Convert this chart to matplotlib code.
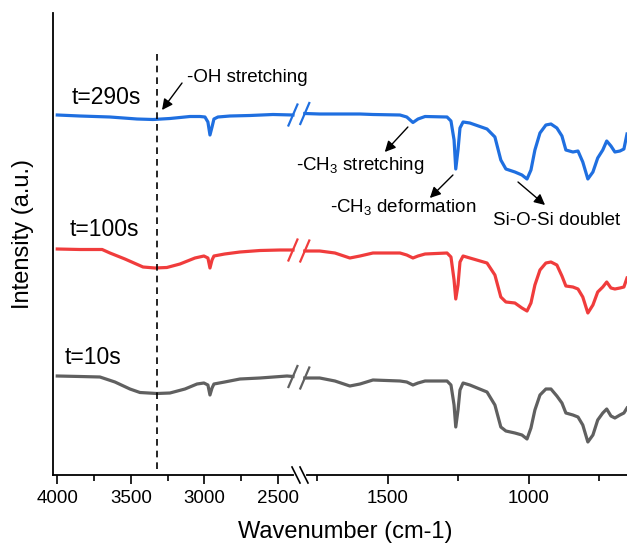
import matplotlib
matplotlib.use("Agg")
import matplotlib.pyplot as plt
from matplotlib.lines import Line2D
from matplotlib.transforms import IdentityTransform

plt.rcParams['font.family'] = ['Liberation Sans', 'DejaVu Sans']
plt.rcParams['mathtext.fontset'] = 'custom'
plt.rcParams['mathtext.rm'] = 'Liberation Sans'
plt.rcParams['mathtext.it'] = 'Liberation Sans:italic'
plt.rcParams['mathtext.default'] = 'regular'

# ---------------- data ----------------
series_labels = ["t=290s", "t=100s", "t=10s"]
series_colors = ["#1f6fe0", "#f03c3c", "#606060"]

wn_left_290 = [4000, 3846, 3642, 3458, 3349, 3234, 3098, 3030, 2996, 2976, 2962, 2948, 2935, 2908, 2826, 2690, 2534, 2398]
int_left_290 = [3.60, 3.59, 3.58, 3.56, 3.555, 3.565, 3.585, 3.585, 3.58, 3.53, 3.40, 3.48, 3.56, 3.58, 3.59, 3.595, 3.605, 3.60]

wn_left_100 = [4000, 3846, 3695, 3642, 3540, 3417, 3336, 3255, 3166, 3064, 3003, 2976, 2962, 2948, 2935, 2862, 2758, 2622, 2486, 2398]
int_left_100 = [2.26, 2.255, 2.255, 2.22, 2.16, 2.08, 2.07, 2.075, 2.11, 2.17, 2.19, 2.17, 2.07, 2.15, 2.19, 2.21, 2.23, 2.245, 2.25, 2.25]

wn_left_10 = [4000, 3846, 3710, 3608, 3506, 3438, 3323, 3234, 3132, 3050, 3003, 2976, 2962, 2948, 2935, 2862, 2758, 2622, 2438, 2398]
int_left_10 = [0.99, 0.985, 0.98, 0.93, 0.86, 0.825, 0.815, 0.82, 0.86, 0.91, 0.92, 0.90, 0.80, 0.87, 0.91, 0.93, 0.96, 0.97, 0.99, 0.985]

wn_right = [1795, 1742, 1688, 1635, 1599, 1553, 1457, 1433, 1411, 1393, 1368, 1290, 1276, 1265, 1259, 1251,
            1244, 1233, 1209, 1148, 1120, 1099, 1081, 1049, 1024, 1006, 992, 978, 960, 939, 921, 900,
            882, 868, 843, 825, 808, 790, 772, 755, 737, 723, 708, 694, 676, 662, 651]
int_right_290 = [3.615, 3.61, 3.61, 3.61, 3.61, 3.605, 3.60, 3.58, 3.525, 3.56, 3.585, 3.58, 3.54, 3.35, 3.06, 3.25,
                 3.47, 3.53, 3.52, 3.46, 3.38, 3.15, 3.06, 3.03, 3.00, 2.96, 3.05, 3.25, 3.42, 3.50, 3.51, 3.47,
                 3.39, 3.25, 3.23, 3.24, 3.13, 2.96, 3.03, 3.17, 3.25, 3.34, 3.29, 3.23, 3.24, 3.26, 3.41]
int_right_100 = [2.24, 2.24, 2.22, 2.17, 2.19, 2.22, 2.22, 2.20, 2.17, 2.19, 2.21, 2.22, 2.18, 1.95, 1.76, 1.90,
                 2.13, 2.19, 2.17, 2.12, 2.00, 1.78, 1.73, 1.72, 1.67, 1.64, 1.72, 1.90, 2.05, 2.12, 2.13, 2.10,
                 1.99, 1.89, 1.88, 1.86, 1.78, 1.62, 1.70, 1.83, 1.88, 1.93, 1.87, 1.86, 1.87, 1.88, 1.97]
int_right_10 = [0.97, 0.97, 0.94, 0.89, 0.91, 0.95, 0.94, 0.93, 0.90, 0.92, 0.94, 0.94, 0.90, 0.70, 0.48, 0.65,
                0.85, 0.92, 0.90, 0.83, 0.70, 0.48, 0.44, 0.42, 0.40, 0.36, 0.47, 0.65, 0.80, 0.86, 0.86, 0.79,
                0.72, 0.62, 0.60, 0.58, 0.50, 0.33, 0.40, 0.55, 0.62, 0.66, 0.59, 0.57, 0.60, 0.62, 0.67]

left_major = [4000, 3500, 3000, 2500]
left_minor = [3750, 3250, 2750]
right_major = [1500, 1000]
right_minor = [1750, 1250, 750]
oh_line_wn = 3320

# ---------------- figure ----------------
W, H = 627, 546
fig = plt.figure(figsize=(W / 100, H / 100), dpi=100)

def px_rect(x0, x1, ytop, ybot):
    return [x0 / W, 1 - ybot / H, (x1 - x0) / W, (ybot - ytop) / H]

axL = fig.add_axes(px_rect(53, 300, 13, 475))
axR = fig.add_axes(px_rect(300, 627, 13, 475))

YMIN, YMAX = 0.0, 4.62
axL.set_xlim(4029, 2350)
axR.set_xlim(1812, 651)
for ax in (axL, axR):
    ax.set_ylim(YMIN, YMAX)
    ax.set_yticks([])
    ax.spines['top'].set_visible(False)
    ax.spines['right'].set_visible(False)
    ax.spines['bottom'].set_linewidth(1.3)
    ax.spines['left'].set_linewidth(1.3)
    ax.tick_params(axis='x', which='major', length=6.5, width=1.2, labelsize=13.5, pad=4)
    ax.tick_params(axis='x', which='minor', length=4.5, width=1.2)
    ax.patch.set_alpha(0)
axR.spines['left'].set_visible(False)

axL.set_xticks(left_major)
axL.set_xticks(left_minor, minor=True)
axR.set_xticks(right_major)
axR.set_xticks(right_minor, minor=True)

lefts = [(wn_left_290, int_left_290), (wn_left_100, int_left_100), (wn_left_10, int_left_10)]
rights = [int_right_290, int_right_100, int_right_10]

for (wl, il), ir, c in zip(lefts, rights, series_colors):
    axL.plot(wl, il, color=c, lw=2.3, solid_joinstyle='round', clip_on=False)
    axR.plot(wn_right, ir, color=c, lw=2.3, solid_joinstyle='round')

# dashed -OH line
axL.plot([oh_line_wn, oh_line_wn], [0.06, 4.25], color='black', lw=1.2, ls=(0, (4, 3)))

# series labels
label_pos = [(3669, 3.77), (3682, 2.46), (3757, 1.18)]
for lab, (x, y) in zip(series_labels, label_pos):
    axL.text(x, y, lab, fontsize=16.5, ha='center', va='center')

# annotations
arrowprops = dict(arrowstyle='-|>', color='black', lw=1.0, mutation_scale=16, shrinkA=0, shrinkB=0)
axL.annotate('', xy=(3288, 3.65), xytext=(3152, 3.92), arrowprops=arrowprops)
axL.text(3119, 3.97, '-OH stretching', fontsize=13.5, ha='left', va='center')

axR.annotate('', xy=(1511, 3.23), xytext=(1429, 3.48), arrowprops=arrowprops)
axR.text(1599, 3.10, '-CH$_3$ stretching', fontsize=13.5, ha='center', va='center')

axR.annotate('', xy=(1351, 2.77), xytext=(1269, 3.00), arrowprops=arrowprops)
axR.text(1447, 2.68, '-CH$_3$ deformation', fontsize=13.5, ha='center', va='center')

axR.annotate('', xy=(942, 2.70), xytext=(1038, 2.93), arrowprops=arrowprops)
axR.text(900, 2.55, 'Si-O-Si doublet', fontsize=13.5, ha='center', va='center')

# axis labels
fig.text(345 / W, 1 - 532 / H, 'Wavenumber (cm-1)', fontsize=17, ha='center', va='center')
fig.text(23 / W, 1 - 234 / H, 'Intensity (a.u.)', fontsize=17, ha='center', va='center', rotation=90)

# break marks on curves (display pixel coordinates)
ident = IdentityTransform()
for (wl, il), ir, c in zip(lefts, rights, series_colors):
    p1 = axL.transData.transform((wl[-1], il[-1]))
    p2 = axR.transData.transform((wn_right[0], ir[0]))
    for p in (p1, p2):
        fig.add_artist(Line2D([p[0] - 4.5, p[0] + 4.5], [p[1] - 10.5, p[1] + 10.5],
                              color=c, lw=1.6, transform=ident))

# break marks on the x axis
bx, by = 300, H - 475
fig.add_artist(Line2D([bx - 4, bx + 4], [by, by], color='white', lw=3, transform=ident))
for dx in (-4, 4):
    fig.add_artist(Line2D([bx + dx - 4, bx + dx + 4], [by + 8, by - 8],
                          color='black', lw=1.2, transform=ident))

fig.savefig('out.png', dpi=100)
